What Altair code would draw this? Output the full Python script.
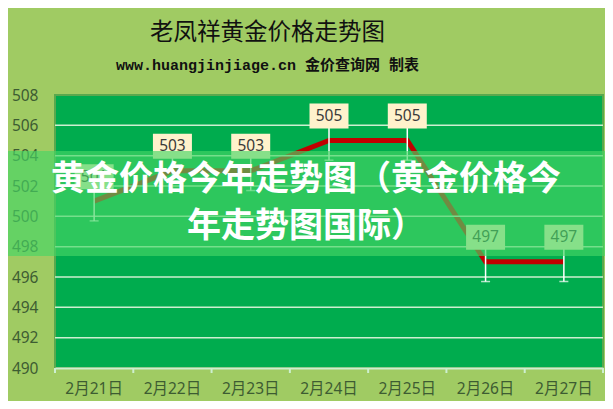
import altair as alt
import pandas as pd

dates = ["2月21日", "2月22日", "2月23日", "2月24日", "2月25日", "2月26日", "2月27日"]
prices = [501, 503, 503, 505, 505, 497, 497]
errors = [1.3, 1.3, 1.3, 1.3, 1.3, 1.3, 1.3]
y_ticks = [490, 492, 494, 496, 498, 500, 502, 504, 506, 508]
grid_vals = [492, 494, 496, 498, 500, 502, 504, 506]
title_text = "老凤祥黄金价格走势图"
subtitle_text = "www.huangjinjiage.cn 金价查询网 制表"
banner_lines = ["黄金价格今年走势图（黄金价格今", "年走势图国际）"]

BG = "#A0CB63"
PLOT = "#00AC4E"
GRID = "#CDEFD0"
LABEL = "#3D5C32"
FONT = "Noto Sans, Noto Sans CJK SC"

W, H = 548, 273

df = pd.DataFrame({
    "date": dates,
    "price": prices,
    "lo": [p - e for p, e in zip(prices, errors)],
    "hi": [p + e for p, e in zip(prices, errors)],
    "label": [str(p) for p in prices],
})

xscale = alt.Scale(domain=dates, paddingInner=0, paddingOuter=0)
yscale = alt.Scale(domain=[490, 508], nice=False, zero=False)

x_axis = alt.Axis(labelAngle=0, ticks=False, domainColor=GRID, domainWidth=2,
                  labelFont=FONT, labelFontSize=15.5, labelColor=LABEL,
                  labelPadding=13, title=None)
y_axis = alt.Axis(values=y_ticks, grid=False, ticks=False, domain=False,
                  labelFont=FONT, labelFontSize=15.5, labelColor=LABEL,
                  labelPadding=17, title=None)


def X(band=None):
    if band is None:
        return alt.X("date:N", sort=dates, scale=xscale, axis=x_axis)
    return alt.X("date:N", sort=dates, scale=xscale, axis=x_axis, bandPosition=band)


def Y(field):
    return alt.Y(field, scale=yscale, axis=y_axis)


base = alt.Chart(df)

line = base.mark_line(color="#C00000", strokeWidth=5, strokeJoin="miter").encode(
    x=X(), y=Y("price:Q"))

grid = alt.Chart(pd.DataFrame({"g": grid_vals})).mark_rule(
    color=GRID, strokeWidth=1.5).encode(y=Y("g:Q"))

xticks = base.mark_rule(color=GRID, strokeWidth=2).encode(
    x=X(0), y=alt.value(H), y2=alt.value(H + 5))
xticks_last = alt.Chart(df.tail(1)).mark_rule(color=GRID, strokeWidth=2).encode(
    x=X(1), y=alt.value(H), y2=alt.value(H + 5))

err_rule = base.mark_rule(color="white", strokeWidth=1.5).encode(
    x=X(), y=Y("lo:Q"), y2="hi:Q")
err_cap = base.mark_tick(color="white", size=9, thickness=1.5).encode(
    x=X(), y=Y("lo:Q"))

box = base.mark_point(
    shape="M-1,-0.641L1,-0.641L1,0.641L-1,0.641Z", size=1521, filled=True,
    fill="#FFF2CC", opacity=1, strokeWidth=0, yOffset=-24.5).encode(
    x=X(), y=Y("price:Q"))
box_text = base.mark_text(dy=-24.5, fontSize=15.5, color="#3A3A3A", font=FONT,
                          baseline="middle").encode(
    x=X(), y=Y("price:Q"), text="label:N")

banner = alt.Chart(pd.DataFrame({"b": [0]})).mark_rect(
    fill="#45D565", opacity=0.65).encode(
    x=alt.value(-47), x2=alt.value(560), y=alt.value(56), y2=alt.value(161))

title = alt.Chart(pd.DataFrame({"t": [title_text]})).mark_text(
    fontSize=23.5, font="Noto Sans CJK SC", color="#111111", baseline="middle").encode(
    x=alt.value(212.5), y=alt.value(-62), text="t:N")
subtitle = alt.Chart(pd.DataFrame({"t": [subtitle_text]})).mark_text(
    fontSize=15, font="Liberation Mono, Noto Sans CJK SC", fontWeight="bold",
    color="#111111", baseline="middle").encode(
    x=alt.value(212.5), y=alt.value(-30), text="t:N")

banner_df = pd.DataFrame({"t": banner_lines})
banner_text1 = alt.Chart(banner_df.head(1)).mark_text(
    fontSize=34, font="Noto Sans CJK SC", fontWeight="bold", color="white",
    baseline="middle").encode(x=alt.value(251), y=alt.value(85), text="t:N")
banner_text2 = alt.Chart(banner_df.tail(1)).mark_text(
    fontSize=34, font="Noto Sans CJK SC", fontWeight="bold", color="white",
    baseline="middle").encode(x=alt.value(251), y=alt.value(132), text="t:N")

chart = alt.layer(
    line, grid, xticks, xticks_last, err_rule, err_cap, box, box_text,
    banner, title, subtitle, banner_text1, banner_text2
).properties(
    width=W, height=H,
    autosize=alt.AutoSizeParams(type="none"),
    padding={"left": 47, "top": 87, "right": 2, "bottom": 33},
    background=BG,
).configure_view(
    fill=PLOT, stroke="#5AA84E", strokeWidth=2
)

chart.save("out.html", embed_options={"renderer": "svg", "actions": False})
